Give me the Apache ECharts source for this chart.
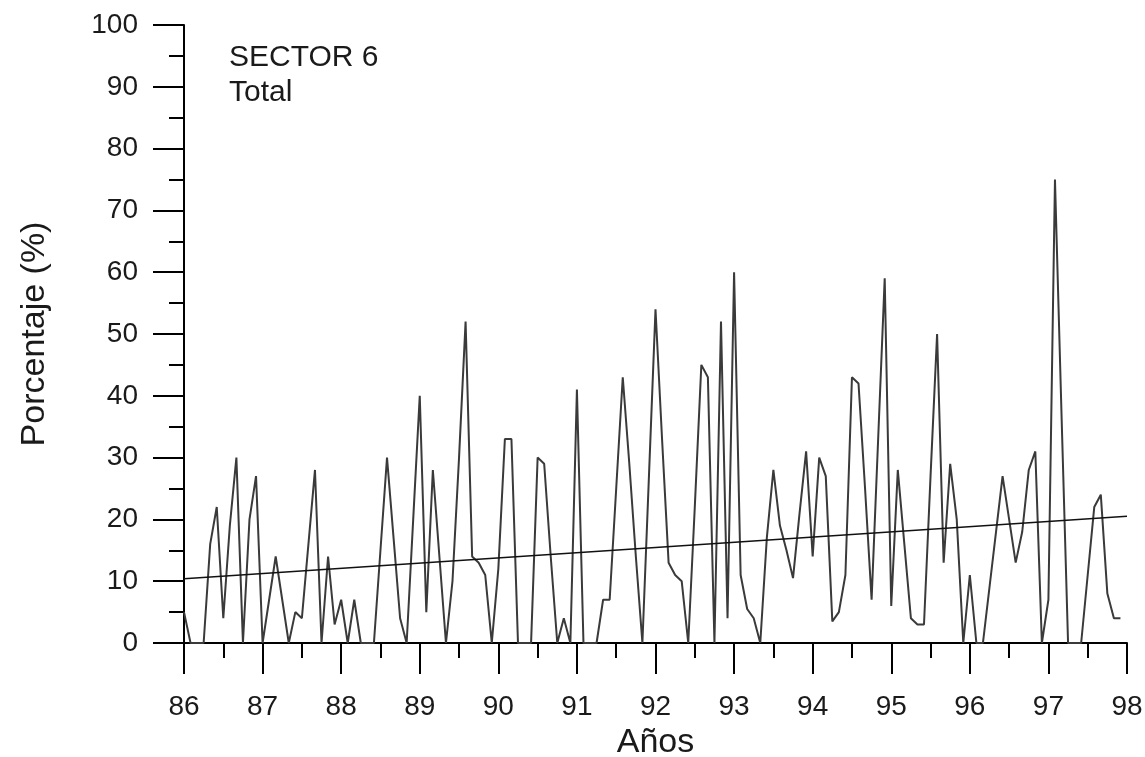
<!DOCTYPE html>
<html>
<head>
<meta charset="utf-8">
<script src="https://cdn.jsdelivr.net/npm/echarts@6/dist/echarts.min.js"></script>
<style>
  html, body { margin: 0; padding: 0; background: #fff; }
  #chart { width: 1145px; height: 757px; }
</style>
</head>
<body>
<div id="chart"></div>
<script>
// Monthly percentage, Sector 6 (total), January 1986 to December 1997
const startYear = 86;
const monthlyPct = [
  5, 0, 0, 0, 16, 22, 4, 19, 30, 0, 20, 27,          // 86
  0, 7, 14, 7, 0, 5, 4, 16, 28, 0, 14, 3,            // 87
  7, 0, 7, 0, 0, 0, 15, 30, 17, 4, 0, 20,            // 88
  40, 5, 28, 14, 0, 10, 30, 52, 14, 13, 11, 0,       // 89
  12, 33, 33, 0, 0, 0, 30, 29, 14, 0, 4, 0,          // 90
  41, 0, 0, 0, 7, 7, 25, 43, 29, 14, 0, 27,          // 91
  54, 33, 13, 11, 10, 0, 22, 45, 43, 0, 52, 4,       // 92
  60, 11, 5.5, 4, 0, 17, 28, 19, 15, 10.5, 21, 31,   // 93
  14, 30, 27, 3.5, 5, 11, 43, 42, 25, 7, 33, 59,     // 94
  6, 28, 16, 4, 3, 3, 27, 50, 13, 29, 20, 0,         // 95
  11, 0, 0, 9, 18, 27, 20, 13, 18, 28, 31, 0,        // 96
  7, 75, 37, 0, 0, 0, 11, 22, 24, 8, 4, 4            // 97
];
// Linear trend, start and end values
const trendYears = [86, 98];
const trendPct = [10.4, 20.5];
const yearTicks = [86, 87, 88, 89, 90, 91, 92, 93, 94, 95, 96, 97, 98];

const seriesData = monthlyPct.map((v, i) => [startYear + i / 12, v]);
const trendData = trendYears.map((y, i) => [y, trendPct[i]]);

const FONT = '"Liberation Sans", Arial, sans-serif';
const INK = '#1a1a1a';

const chart = echarts.init(document.getElementById('chart'), null, { renderer: 'canvas' });
chart.setOption({
  animation: false,
  backgroundColor: '#ffffff',
  grid: {
    left: 184, right: 18, top: 25, bottom: 114,
    containLabel: false,
    outerBoundsMode: 'none'
  },
  xAxis: {
    type: 'value',
    min: yearTicks[0],
    max: yearTicks[yearTicks.length - 1],
    interval: 1,
    name: 'Años',
    nameLocation: 'middle',
    nameGap: 78,
    nameTextStyle: { fontFamily: FONT, fontSize: 34, color: INK },
    axisLine: { onZero: false, lineStyle: { color: '#000', width: 2 } },
    axisTick: { show: true, inside: false, length: 31, lineStyle: { color: '#000', width: 2 } },
    minorTick: { show: true, splitNumber: 2, length: 15, lineStyle: { color: '#000', width: 2 } },
    splitLine: { show: false },
    axisLabel: { fontFamily: FONT, fontSize: 28, color: INK, margin: 50 }
  },
  yAxis: {
    type: 'value',
    min: 0,
    max: 100,
    interval: 10,
    name: 'Porcentaje (%)',
    nameLocation: 'middle',
    nameGap: 132,
    nameRotate: 90,
    nameTextStyle: { fontFamily: FONT, fontSize: 34, color: INK },
    axisLine: { show: true, lineStyle: { color: '#000', width: 2 } },
    axisTick: { show: true, inside: false, length: 31, lineStyle: { color: '#000', width: 2 } },
    minorTick: { show: true, splitNumber: 2, length: 15, lineStyle: { color: '#000', width: 2 } },
    splitLine: { show: false },
    axisLabel: { fontFamily: FONT, fontSize: 28, color: INK, margin: 46 }
  },
  series: [
    {
      name: 'Total',
      type: 'line',
      data: seriesData,
      showSymbol: false,
      lineStyle: { color: '#3a3a3a', width: 2 },
      z: 2
    },
    {
      name: 'Tendencia',
      type: 'line',
      data: trendData,
      showSymbol: false,
      lineStyle: { color: '#111', width: 1.4 },
      z: 3
    }
  ],
  graphic: [
    {
      type: 'text',
      left: 229,
      top: 40,
      style: {
        text: 'SECTOR 6\nTotal',
        font: '30px ' + FONT,
        lineHeight: 35,
        fill: INK
      }
    }
  ]
});
</script>
</body>
</html>
